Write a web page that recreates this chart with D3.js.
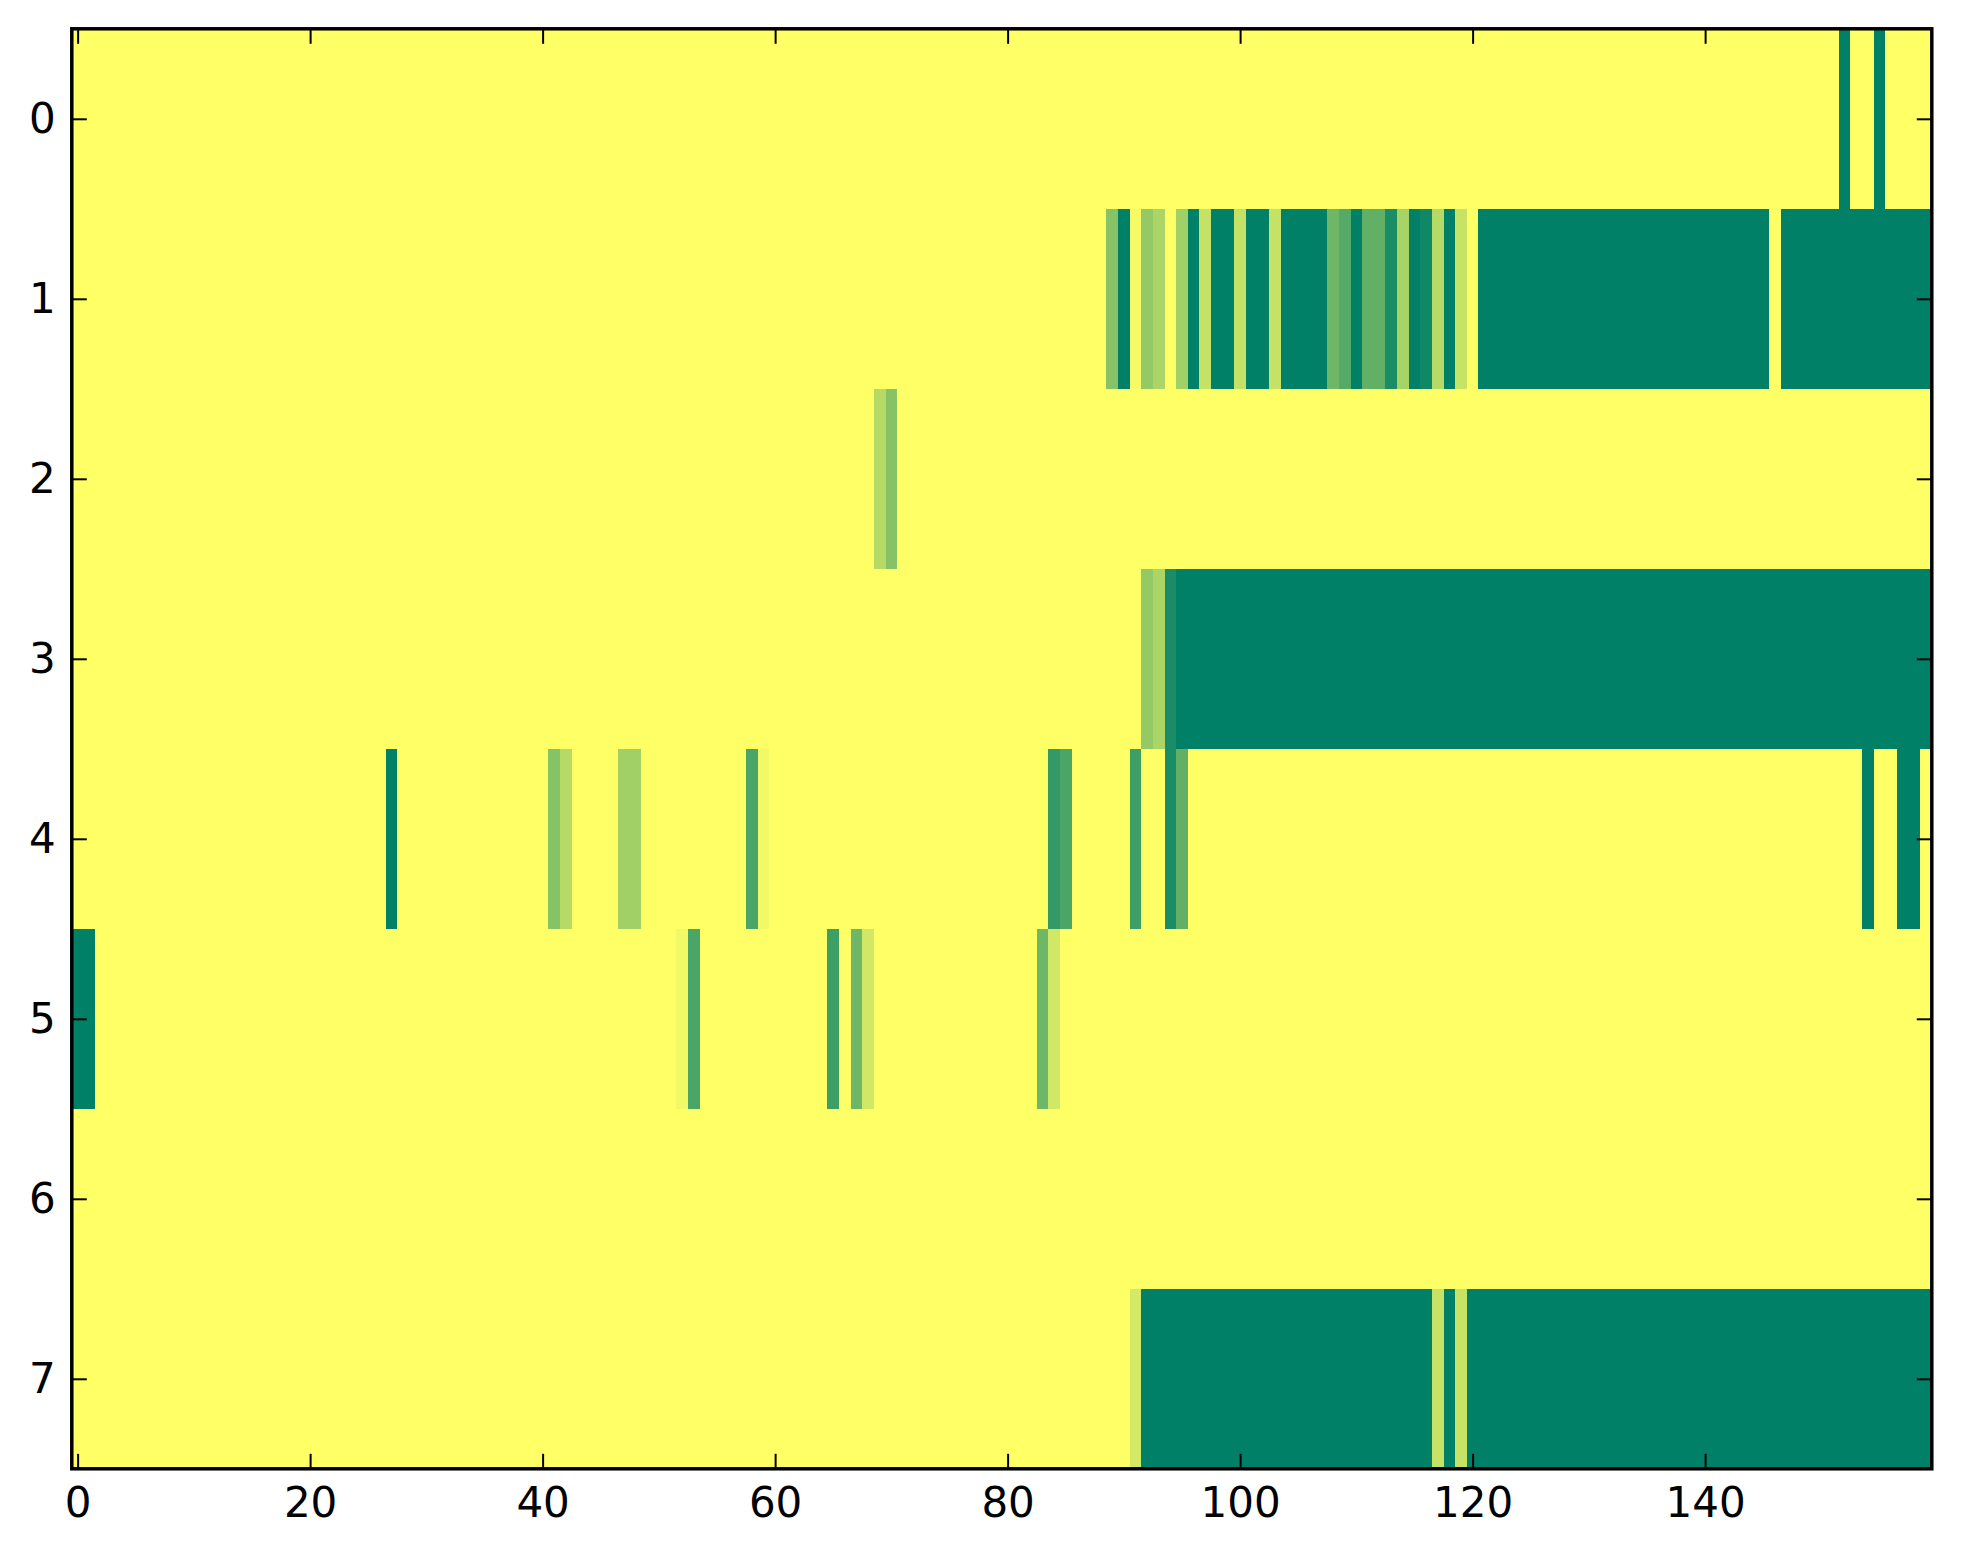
<!DOCTYPE html>
<html>
<head>
<meta charset="utf-8">
<script src="https://cdn.jsdelivr.net/npm/d3@7"></script>
<style>
  html, body { margin: 0; padding: 0; background: #ffffff; }
  svg { display: block; }
</style>
</head>
<body>
<svg id="chart" width="1963" height="1564"></svg>
<script>
// ---- data (values in [0,1]) ----
const xTickValues = [0, 20, 40, 60, 80, 100, 120, 140];
const yTickValues = [0, 1, 2, 3, 4, 5, 6, 7];

const row0 = [
  0,0,0,0,0,0,0,0,0,0,0,0,0,0,0,0,0,0,0,0,
  0,0,0,0,0,0,0,0,0,0,0,0,0,0,0,0,0,0,0,0,
  0,0,0,0,0,0,0,0,0,0,0,0,0,0,0,0,0,0,0,0,
  0,0,0,0,0,0,0,0,0,0,0,0,0,0,0,0,0,0,0,0,
  0,0,0,0,0,0,0,0,0,0,0,0,0,0,0,0,0,0,0,0,
  0,0,0,0,0,0,0,0,0,0,0,0,0,0,0,0,0,0,0,0,
  0,0,0,0,0,0,0,0,0,0,0,0,0,0,0,0,0,0,0,0,
  0,0,0,0,0,0,0,0,0,0,0,0,1,0,0,1,0,0,0,0
];
const row1 = [
  0,0,0,0,0,0,0,0,0,0,0,0,0,0,0,0,0,0,0,0,
  0,0,0,0,0,0,0,0,0,0,0,0,0,0,0,0,0,0,0,0,
  0,0,0,0,0,0,0,0,0,0,0,0,0,0,0,0,0,0,0,0,
  0,0,0,0,0,0,0,0,0,0,0,0,0,0,0,0,0,0,0,0,
  0,0,0,0,0,0,0,0,0,.47,1,.04,.42,.33,0,.37,1,.23,1,1,
  .23,1,1,.23,1,1,1,1,.57,.67,1,.62,.62,.9,.34,1,.94,.29,1,.22,
  0,1,1,1,1,1,1,1,1,1,1,1,1,1,1,1,1,1,1,1,
  1,1,1,1,1,1,0,1,1,1,1,1,1,1,1,1,1,1,1,1
];
const row2 = [
  0,0,0,0,0,0,0,0,0,0,0,0,0,0,0,0,0,0,0,0,
  0,0,0,0,0,0,0,0,0,0,0,0,0,0,0,0,0,0,0,0,
  0,0,0,0,0,0,0,0,0,0,0,0,0,0,0,0,0,0,0,0,
  0,0,0,0,0,0,0,0,0,.29,.47,0,0,0,0,0,0,0,0,0,
  0,0,0,0,0,0,0,0,0,0,0,0,0,0,0,0,0,0,0,0,
  0,0,0,0,0,0,0,0,0,0,0,0,0,0,0,0,0,0,0,0,
  0,0,0,0,0,0,0,0,0,0,0,0,0,0,0,0,0,0,0,0,
  0,0,0,0,0,0,0,0,0,0,0,0,0,0,0,0,0,0,0,0
];
const row3 = [
  0,0,0,0,0,0,0,0,0,0,0,0,0,0,0,0,0,0,0,0,
  0,0,0,0,0,0,0,0,0,0,0,0,0,0,0,0,0,0,0,0,
  0,0,0,0,0,0,0,0,0,0,0,0,0,0,0,0,0,0,0,0,
  0,0,0,0,0,0,0,0,0,0,0,0,0,0,0,0,0,0,0,0,
  0,0,0,0,0,0,0,0,0,0,0,0,.42,.33,.9,1,1,1,1,1,
  1,1,1,1,1,1,1,1,1,1,1,1,1,1,1,1,1,1,1,1,
  1,1,1,1,1,1,1,1,1,1,1,1,1,1,1,1,1,1,1,1,
  1,1,1,1,1,1,1,1,1,1,1,1,1,1,1,1,1,1,1,1
];
const row4 = [
  0,0,0,0,0,0,0,0,0,0,0,0,0,0,0,0,0,0,0,0,
  0,0,0,0,0,0,0,1,0,0,0,0,0,0,0,0,0,0,0,0,
  0,.47,.29,0,0,0,0,.37,.37,0,0,0,0,0,0,0,0,0,.71,.05,
  0,0,0,0,0,0,0,0,0,0,0,0,0,0,0,0,0,0,0,0,
  0,0,0,0,.8,.71,0,0,0,0,0,.76,0,0,.9,.62,0,0,0,0,
  0,0,0,0,0,0,0,0,0,0,0,0,0,0,0,0,0,0,0,0,
  0,0,0,0,0,0,0,0,0,0,0,0,0,0,0,0,0,0,0,0,
  0,0,0,0,0,0,0,0,0,0,0,0,0,0,1,0,0,1,1,0
];
const row5 = [
  1,1,0,0,0,0,0,0,0,0,0,0,0,0,0,0,0,0,0,0,
  0,0,0,0,0,0,0,0,0,0,0,0,0,0,0,0,0,0,0,0,
  0,0,0,0,0,0,0,0,0,0,0,0,.05,.71,0,0,0,0,0,0,
  0,0,0,0,0,.76,0,.57,.18,0,0,0,0,0,0,0,0,0,0,0,
  0,0,0,.57,.18,0,0,0,0,0,0,0,0,0,0,0,0,0,0,0,
  0,0,0,0,0,0,0,0,0,0,0,0,0,0,0,0,0,0,0,0,
  0,0,0,0,0,0,0,0,0,0,0,0,0,0,0,0,0,0,0,0,
  0,0,0,0,0,0,0,0,0,0,0,0,0,0,0,0,0,0,0,0
];
const row6 = [
  0,0,0,0,0,0,0,0,0,0,0,0,0,0,0,0,0,0,0,0,
  0,0,0,0,0,0,0,0,0,0,0,0,0,0,0,0,0,0,0,0,
  0,0,0,0,0,0,0,0,0,0,0,0,0,0,0,0,0,0,0,0,
  0,0,0,0,0,0,0,0,0,0,0,0,0,0,0,0,0,0,0,0,
  0,0,0,0,0,0,0,0,0,0,0,0,0,0,0,0,0,0,0,0,
  0,0,0,0,0,0,0,0,0,0,0,0,0,0,0,0,0,0,0,0,
  0,0,0,0,0,0,0,0,0,0,0,0,0,0,0,0,0,0,0,0,
  0,0,0,0,0,0,0,0,0,0,0,0,0,0,0,0,0,0,0,0
];
const row7 = [
  0,0,0,0,0,0,0,0,0,0,0,0,0,0,0,0,0,0,0,0,
  0,0,0,0,0,0,0,0,0,0,0,0,0,0,0,0,0,0,0,0,
  0,0,0,0,0,0,0,0,0,0,0,0,0,0,0,0,0,0,0,0,
  0,0,0,0,0,0,0,0,0,0,0,0,0,0,0,0,0,0,0,0,
  0,0,0,0,0,0,0,0,0,0,0,.17,1,1,1,1,1,1,1,1,
  1,1,1,1,1,1,1,1,1,1,1,1,1,1,1,1,1,.22,1,.22,
  1,1,1,1,1,1,1,1,1,1,1,1,1,1,1,1,1,1,1,1,
  1,1,1,1,1,1,1,1,1,1,1,1,1,1,1,1,1,1,1,1
];
const rows = [row0, row1, row2, row3, row4, row5, row6, row7];

// ---- layout ----
const plotLeft = 71.8, plotRight = 1931.8, plotTop = 28.8, plotBottom = 1468.8;
const nCols = row0.length, nRows = rows.length;

const svg = d3.select("#chart");
const x = d3.scaleLinear().domain([-0.5, nCols - 0.5]).range([plotLeft, plotRight]);
const y = d3.scaleLinear().domain([-0.5, nRows - 0.5]).range([plotTop, plotBottom]);
// matplotlib "summer_r": 0 -> (1,1,0.4), 1 -> (0,0.5,0.4)
const color = d3.scaleLinear().domain([0, 1]).range(["#ffff66", "#008066"]).interpolate(d3.interpolateRgb);

const cells = [];
rows.forEach((row, r) => row.forEach((v, c) => cells.push({ r, c, v })));

svg.append("g")
  .attr("shape-rendering", "crispEdges")
  .selectAll("rect")
  .data(cells)
  .join("rect")
  .attr("x", d => x(d.c - 0.5))
  .attr("y", d => y(d.r - 0.5))
  .attr("width", d => x(d.c + 0.5) - x(d.c - 0.5) + 0.3)
  .attr("height", d => y(d.r + 0.5) - y(d.r - 0.5) + 0.3)
  .attr("fill", d => color(d.v));

// ---- axes (ticks inward on all four sides, matplotlib classic) ----
const font = "'DejaVu Sans', sans-serif";
const tickLen = 15;

function styleAxis(g) {
  g.select(".domain").remove();
  g.selectAll(".tick line").attr("stroke", "#000").attr("stroke-width", 2);
  g.selectAll(".tick text").attr("fill", "#000").style("font-family", font).style("font-size", "42px");
}

svg.append("g").attr("transform", `translate(0,${plotBottom})`)
  .call(d3.axisBottom(x).tickValues(xTickValues).tickSizeInner(-tickLen).tickSizeOuter(0).tickPadding(18).tickFormat(d3.format("d")))
  .call(styleAxis);
svg.append("g").attr("transform", `translate(0,${plotTop})`)
  .call(d3.axisTop(x).tickValues(xTickValues).tickSizeInner(-tickLen).tickSizeOuter(0).tickFormat(""))
  .call(styleAxis);
svg.append("g").attr("transform", `translate(${plotLeft},0)`)
  .call(d3.axisLeft(y).tickValues(yTickValues).tickSizeInner(-tickLen).tickSizeOuter(0).tickPadding(16).tickFormat(d3.format("d")))
  .call(styleAxis);
svg.append("g").attr("transform", `translate(${plotRight},0)`)
  .call(d3.axisRight(y).tickValues(yTickValues).tickSizeInner(-tickLen).tickSizeOuter(0).tickFormat(""))
  .call(styleAxis);

// frame
svg.append("rect")
  .attr("x", plotLeft).attr("y", plotTop)
  .attr("width", plotRight - plotLeft).attr("height", plotBottom - plotTop)
  .attr("fill", "none").attr("stroke", "#000").attr("stroke-width", 3.5);
</script>
</body>
</html>
